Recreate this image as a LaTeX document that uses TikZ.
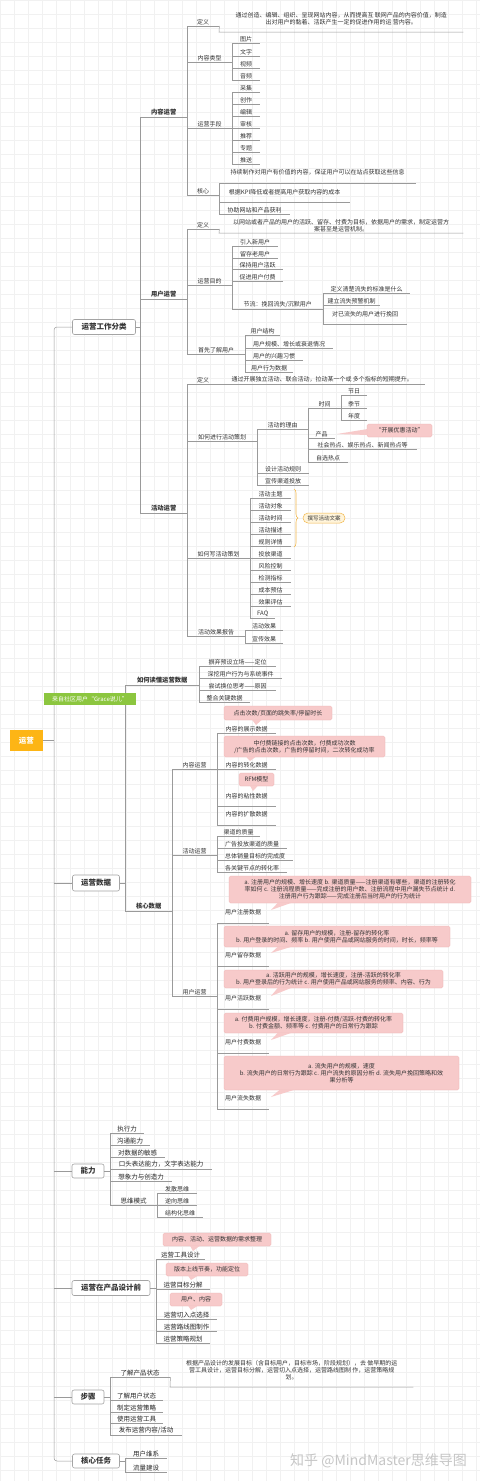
\documentclass[tikz,border=0pt]{standalone}
\usepackage{fontspec}
\setmainfont{Noto Sans CJK SC}
\usetikzlibrary{decorations.pathreplacing}
\definecolor{lnc}{HTML}{9A9A9A}
\definecolor{txt}{HTML}{333333}
\definecolor{pinkf}{HTML}{F7CACA}
\definecolor{pinkd}{HTML}{EDAFAF}
\definecolor{orng}{HTML}{FDB515}
\definecolor{grn}{HTML}{8CC63F}
\definecolor{brc}{HTML}{F2B84B}
\definecolor{brf}{HTML}{FFF4DA}
\definecolor{gridc}{HTML}{F1F1F1}
\tikzset{
 ln/.style={draw=lnc, line width=0.5pt},
 lf/.style={anchor=south west, inner xsep=0pt, inner ysep=1.2pt, font=\fontsize{6}{7}\selectfont, text=txt, align=center},
 br/.style={font=\bfseries\fontsize{6.3}{7}\selectfont},
 sk/.style={font=\fontsize{6.5}{7}\selectfont, text=black!85},
 gap/.style={inner ysep=#1},
 tbox/.style={draw=lnc!90, fill=white, rounded corners=2pt, line width=0.6pt, font=\bfseries\fontsize{7.5}{9}\selectfont, text=txt, inner sep=0pt},
 pk/.style={fill=pinkf, draw=pinkd, line width=0.3pt, rounded corners=1.5pt, font=\fontsize{6}{7}\selectfont, text=txt, align=center, inner sep=0pt},
}
\newcommand\lfn[6][]{\node[lf,#1,minimum width={(#5-#3)*1pt}] (#2) at (#3,#4) {#6};\draw[ln] (#2.south west) -- (#2.south east);}
\newcommand\vconn[2]{\draw[ln] (#1.south west) -- (#2.south west);}
\newcommand\pkbox[6]{\node[pk, minimum width={(#4-#2)*1pt}, minimum height={(#5-#3)*1pt}] (#1) at ({(#2+#4)/2},{(#3+#5)/2}) {#6};}
\begin{document}
\begin{tikzpicture}[x=1pt,y=-1pt]
\useasboundingbox (0,0) rectangle (480,1481);
\fill[white] (0,0) rectangle (480,1481);
\foreach \i in {0,14,...,480} \draw[gridc, line width=0.3pt] (\i,0) -- (\i,1481);
\foreach \j in {0,14,...,1481} \draw[gridc, line width=0.3pt] (0,\j) -- (480,\j);

% top-level boxes
\node[tbox, minimum width=63pt, minimum height=15pt] (b1) at (104,327) {运营工作分类};
\node[tbox, minimum width=47pt, minimum height=16pt] (b2) at (96,883) {运营数据};
\node[tbox, minimum width=32pt, minimum height=14pt] (b3) at (88,1171) {能力};
\node[tbox, minimum width=78pt, minimum height=15pt] (b4) at (111,1288) {运营在产品设计前};
\node[tbox, minimum width=32pt, minimum height=14pt] (b5) at (88,1397) {步骤};
\node[tbox, minimum width=47pt, minimum height=14pt] (b6) at (96,1461) {核心任务};
\node[fill=orng, minimum width=33pt, minimum height=21pt, inner sep=0pt, text=white, font=\bfseries\fontsize{7.5}{9}\selectfont] (root) at (26.5,740.5) {运营};
\coordinate (tk1) at (54,327);
\coordinate (tk2) at (54,1461);
\draw[ln, rounded corners=3pt] (b1.west) -| (tk2) -- (b6.west);
\draw[ln] (root.east) -- (root.east -| tk1);
\foreach \b in {b2,b3,b4,b5} \draw[ln] (\b.west) -- (\b.west -| tk1);

% ===== 运营工作分类
\lfn[br]{nr1}{140}{117}{187}{内容运营}
\lfn[br]{nr2}{140}{299}{187}{用户运营}
\lfn[br]{nr3}{140}{513}{187}{活动运营}
\vconn{nr1}{nr3}
\draw[ln] (b1.east) -- (b1.east -| nr1.south west);

% 内容运营
\lfn{n1def}{187}{26}{219}{定义}
\node[lf, gap=7pt, minimum width=244pt] (n1desc) at (219,32) {通过创造、编辑、组织、呈现网站内容，从而提高互 联网产品的内容价值，制造\\出对用户的黏着、活跃产生一定的促进作用的运 营内容。};
\draw[ln] (n1def.south east) -- (n1desc.south west) -- (n1desc.south east);
\lfn{n1type}{187}{62}{232}{内容类型}
\lfn{t1}{232}{43}{260}{图片}
\lfn{t2}{232}{56}{260}{文字}
\lfn{t3}{232}{68}{260}{视频}
\lfn{t4}{232}{80}{260}{音频}
\vconn{t1}{t4}
\lfn{n1means}{187}{128}{232}{运营手段}
\lfn{m1}{232}{92}{260}{采集}
\lfn{m2}{232}{104}{260}{创作}
\lfn{m3}{232}{116}{260}{编辑}
\lfn{m4}{232}{128}{260}{审核}
\lfn{m5}{232}{140}{260}{推荐}
\lfn{m6}{232}{152}{260}{专题}
\lfn{m7}{232}{164}{260}{推送}
\vconn{m1}{m7}
\lfn{n1core}{187}{195}{219}{核心}
\lfn[gap=7.2pt]{c1}{219}{183}{416}{持续制作对用户有价值的内容，保证用户可以在站点获取这些信息}
\lfn[gap=7.2pt]{c2}{219}{202}{350}{根据KPI降低或者提高用户获取内容的成本}
\lfn{c3}{219}{214}{290}{协助网站和产品获利}
\vconn{c1}{c3}
\vconn{n1def}{n1core}

% 用户运营
\lfn{n2def}{187}{229}{219}{定义}
\node[lf, gap=1.2pt, minimum width=244pt] (n2desc) at (219,233) {以网站或者产品的用户的活跃、留存、付费为目标，依据用户的需求，制定运营方\\案甚至是运营机制。};
\draw[ln] (n2def.south east) -- (n2desc.south west) -- (n2desc.south east);
\lfn{n2goal}{187}{285}{232}{运营目的}
\lfn{g1}{232}{246}{278}{引入新用户}
\lfn{g2}{232}{258}{278}{留存老用户}
\lfn{g3}{232}{269}{283}{保持用户活跃}
\lfn{g4}{232}{281}{283}{促进用户付费}
\lfn{g5}{232}{309}{323}{节流：挽回流失/沉默用户}
\vconn{g1}{g5}
\lfn{s1}{323}{293}{410}{定义清楚流失的标准是什么}
\lfn{s2}{323}{305}{380}{建立流失预警机制}
\lfn[gap=7.2pt]{s3}{323}{324}{407}{对已流失的用户进行挽回}
\vconn{s1}{s3}
\lfn{n2know}{187}{354}{245}{首先了解用户}
\lfn{k1}{245}{335}{280}{用户结构}
\lfn{k2}{245}{348}{333}{用户规模、增长或衰退情况}
\lfn{k3}{245}{360}{303}{用户的兴趣习惯}
\lfn{k4}{245}{372}{293}{用户行为数据}
\vconn{k1}{k4}
\vconn{n2def}{n2know}

% 活动运营
\lfn{n3def}{187}{384}{219}{定义}
\lfn{n3desc}{219}{384}{425}{通过开展独立活动、联合活动，拉动某一个或 多个指标的短期提升。}
\lfn{n3plan}{187}{441}{257}{如何进行活动策划}
\lfn{p1}{257}{429}{308}{活动的理由}
\lfn{q1}{308}{408}{341}{时间}
\lfn{r1}{341}{395}{367}{节日}
\lfn{r2}{341}{408}{367}{季节}
\lfn{r3}{341}{420}{367}{年度}
\vconn{r1}{r3}
\lfn{q2}{308}{438}{335}{产品}
\lfn{q3}{308}{449}{417}{社会热点、娱乐热点、新闻热点等}
\lfn{q4}{308}{462}{348}{自选热点}
\vconn{q1}{q4}
\lfn{p2}{257}{473}{309}{设计活动规则}
\lfn{p3}{257}{485}{309}{宣传渠道投放}
\vconn{p1}{p3}
\pkbox{cprod}{367}{424}{432}{437}{“开展优惠活动”}
\fill[pinkf] (367.6,429) -- (367.6,435) -- (337,434) -- cycle;

\lfn{n3write}{187}{558}{250}{如何写活动策划}
\lfn{w1}{250}{498}{291}{活动主题}
\lfn{w2}{250}{510}{291}{活动对象}
\lfn{w3}{250}{522}{291}{活动时间}
\lfn{w4}{250}{534}{291}{活动描述}
\lfn{w5}{250}{546}{291}{规则详情}
\lfn{w6}{250}{558}{291}{投放渠道}
\lfn{w7}{250}{570}{291}{风险控制}
\lfn{w8}{250}{582}{291}{检测指标}
\lfn{w9}{250}{594}{291}{成本预估}
\lfn{w10}{250}{606}{291}{效果评估}
\lfn{w11}{250}{618}{275}{FAQ}
\vconn{w1}{w11}
\draw[brc, line width=0.6pt, decorate, decoration={brace, amplitude=4pt}] (294,489) -- (294,547);
\node[fill=brf, draw=brc, line width=0.5pt, rounded corners=5pt, minimum width=42pt, minimum height=10pt, inner sep=0pt, font=\fontsize{5.5}{6}\selectfont, text=txt] (copy) at (324,518) {撰写活动文案};
\lfn{n3rep}{187}{636}{245}{活动效果报告}
\lfn{e1}{245}{630}{283}{活动效果}
\lfn{e2}{245}{643}{283}{宣传效果}
\vconn{e1}{e2}
\vconn{n3def}{n3rep}

% ===== 运营数据
\lfn[br]{rd1}{125}{685}{199}{如何读懂运营数据}
\lfn[br]{rd2}{125}{911}{172}{核心数据}
\vconn{rd1}{rd2}
\draw[ln] (b2.east) -- (b2.east -| rd1.south west);
\lfn{d1}{199}{666}{276}{摒弃预设立场——定位}
\lfn{d2}{199}{678}{282}{深挖用户行为与系统事件}
\lfn{d3}{199}{690}{276}{尝试换位思考——原因}
\lfn{d4}{199}{702}{250}{整合关键数据}
\vconn{d1}{d4}

\lfn{cr1}{172}{769}{217}{内容运营}
\lfn{cr2}{172}{855}{217}{活动运营}
\lfn{cr3}{172}{996}{217}{用户运营}
\vconn{cr1}{cr3}
\lfn{ca1}{217}{733}{276}{内容的展示数据}
\lfn{ca2}{217}{769}{276}{内容的转化数据}
\lfn[gap=7.2pt]{ca3}{217}{806}{276}{内容的粘性数据}
\lfn[gap=8pt]{ca4}{217}{825}{276}{内容的扩散数据}
\vconn{ca1}{ca4}
\pkbox{pt1}{224}{706}{332}{720}{点击次数/页面的跳失率/停留时长}
\fill[pinkf] (252,719.6) -- (262,719.6) -- (256,725) -- cycle;
\pkbox{pt2}{224}{736}{385}{757}{中付费链接的点击次数，付费成功次数\\/广告的点击次数，广告的停留时间，二次转化成功率}
\fill[pinkf] (246,756.6) -- (256,756.6) -- (250,761) -- cycle;
\pkbox{prfm}{239}{773}{274}{786}{RFM模型}
\fill[pinkf] (250,785.6) -- (258,785.6) -- (253,791) -- cycle;

\lfn{cb1}{217}{836}{260}{渠道的质量}
\lfn{cb2}{217}{848}{287}{广告投放渠道的质量}
\lfn{cb3}{217}{860}{293}{总体销量目标的完成度}
\lfn{cb4}{217}{872}{287}{各关键节点的转化率}
\vconn{cb1}{cb4}

\lfn[gap=7.5pt]{cu1}{217}{923}{269}{用户注册数据}
\lfn[gap=7.5pt]{cu2}{217}{966}{269}{用户留存数据}
\lfn[gap=7.5pt]{cu3}{217}{1009}{269}{用户活跃数据}
\lfn[gap=7.5pt]{cu4}{217}{1053}{269}{用户付费数据}
\lfn[gap=7.5pt]{cu5}{217}{1109}{269}{用户流失数据}
\vconn{cu1}{cu5}
\pkbox{pa}{229}{876}{471}{903}{a. 注册用户的规模、增长速度 b. 渠道质量——注册渠道有哪些，渠道的注册转化\\率如何 c. 注册流程质量——完成注册的用户数、注册流程中用户漏失节点统计 d.\\注册用户行为跟踪——完成注册后当时用户的行为统计}
\fill[pinkf] (278,902.6) -- (292,902.6) -- (271,910) -- cycle;
\pkbox{pb}{224}{926}{450}{947}{a. 留存用户的规模，注册-留存的转化率\\b. 用户登录的时间、频率 b. 用户使用产品或网站服务的时间，时长，频率等}
\fill[pinkf] (278,946.6) -- (292,946.6) -- (271,953) -- cycle;
\pkbox{pc}{224}{970}{443}{988}{a. 活跃用户的规模，增长速度，注册-活跃的转化率\\b. 用户登录后的行为统计 c. 用户使用产品或网站服务的频率、内容、行为}
\fill[pinkf] (278,987.6) -- (292,987.6) -- (271,996) -- cycle;
\pkbox{pd}{224}{1013}{403}{1033}{a. 付费用户规模，增长速度，注册-付费/活跃-付费的转化率\\b. 付费金额、频率等 c. 付费用户的日常行为跟踪}
\fill[pinkf] (278,1032.6) -- (292,1032.6) -- (271,1040) -- cycle;
\pkbox{pe}{224}{1056}{459}{1090}{a. 流失用户的规模，速度\\b. 流失用户的日常行为跟踪 c. 用户流失的原因分析 d. 流失用户挽回策略和效\\果分析等}
\fill[pinkf] (280,1089.6) -- (295,1089.6) -- (271,1097) -- cycle;

% ===== 能力
\lfn[sk]{a1}{110}{1133}{144}{执行力}
\lfn[sk]{a2}{110}{1145}{150}{沟通能力}
\lfn[sk]{a3}{110}{1157}{165}{对数据的敏感}
\lfn[sk]{a4}{110}{1169}{212}{口头表达能力，文字表达能力}
\lfn[sk]{a5}{110}{1181}{172}{想象力与创造力}
\lfn[sk]{a6}{110}{1205}{157}{思维模式}
\vconn{a1}{a6}
\draw[ln] (b3.east) -- (b3.east -| a1.south west);
\lfn{a61}{157}{1193}{197}{发散思维}
\lfn{a62}{157}{1205}{197}{逆向思维}
\lfn{a63}{157}{1217}{203}{结构化思维}
\vconn{a61}{a63}

% ===== 运营在产品设计前
\lfn[sk]{f1}{156}{1259}{205}{运营工具设计}
\lfn[sk]{f2}{156}{1289}{210}{运营目标分解}
\lfn[sk]{f3}{156}{1319}{217}{运营切入点选择}
\lfn[sk]{f4}{156}{1331}{217}{运营路线图制作}
\lfn[sk]{f5}{156}{1343}{210}{运营策略规划}
\vconn{f1}{f5}
\draw[ln] (b4.east) -- (b4.east -| f1.south west);
\pkbox{pf}{163}{1233}{271}{1246}{内容、活动、运营数据的需求整理}
\fill[pinkf] (190,1245.6) -- (200,1245.6) -- (193,1251) -- cycle;
\pkbox{pg}{166}{1263}{248}{1276}{版本上线节奏，功能定位}
\fill[pinkf] (188,1275.6) -- (198,1275.6) -- (191,1280) -- cycle;
\pkbox{ph}{170}{1293}{222}{1306}{用户、内容}
\fill[pinkf] (188,1305.6) -- (198,1305.6) -- (191,1310) -- cycle;

% ===== 步骤
\lfn[sk]{st1}{110}{1377}{170}{了解产品状态}
\node[lf, gap=7pt, minimum width=243pt] (stdesc) at (170,1387) {根据产品设计的发展目标（含目标用户，目标市场，阶段规划），去 做早期的运\\营工具设计，运营目标分解，运营切入点选择，运营路线图制 作，运营策略规\\划。};
\draw[ln] (st1.south east) -- (stdesc.south west) -- (stdesc.south east);
\lfn[sk]{st2}{110}{1400}{163}{了解用户状态}
\lfn[sk]{st3}{110}{1412}{163}{制定运营策略}
\lfn[sk]{st4}{110}{1423}{163}{使用运营工具}
\lfn[sk]{st5}{110}{1435}{182}{发布运营内容/活动}
\vconn{st1}{st5}
\draw[ln] (b5.east) -- (b5.east -| st1.south west);

% ===== 核心任务
\lfn[sk]{h1}{125}{1458}{167}{用户维系}
\lfn[sk]{h2}{125}{1472}{167}{流量建设}
\vconn{h1}{h2}
\draw[ln] (b6.east) -- (b6.east -| h1.south west);

% floating label
\node[fill=grn, minimum width=92pt, minimum height=12pt, inner sep=0pt, text=white, font=\fontsize{6}{7}\selectfont] (grace) at (90,699) {来自社区用户“Grace说儿”};

% watermark
\node[text=gray!45, font=\fontsize{14}{16}\selectfont, anchor=west, inner sep=0pt] (wm) at (290,1461) {知乎 @MindMaster思维导图};
\end{tikzpicture}
\end{document}
